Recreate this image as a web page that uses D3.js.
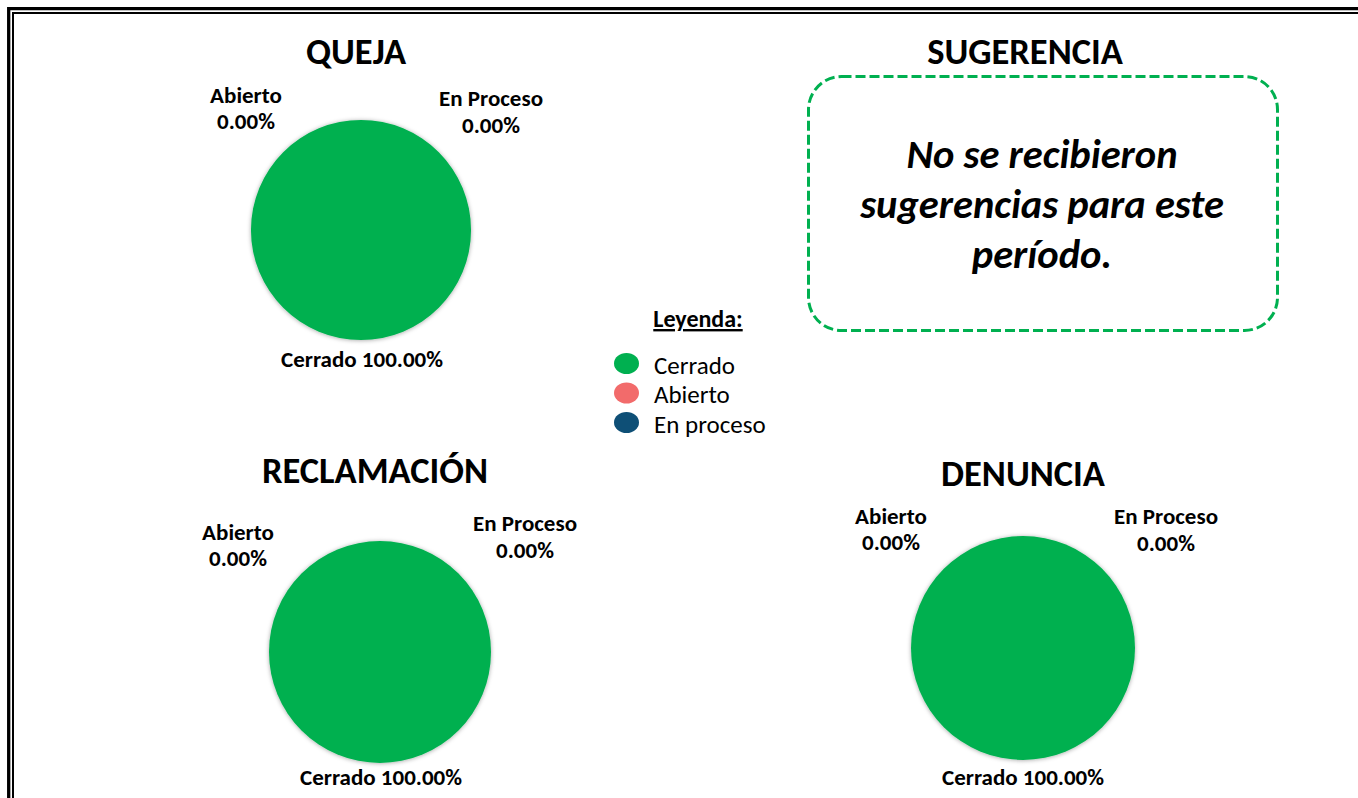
<!DOCTYPE html>
<html>
<head>
<meta charset="utf-8">
<script src="https://cdn.jsdelivr.net/npm/d3@7"></script>
<style>
  html, body { margin: 0; padding: 0; background: #ffffff; }
  svg { display: block; }
  text { font-family: Carlito, Calibri, Lato, "Open Sans", sans-serif; fill: #000; }
</style>
</head>
<body>
<svg id="chart" width="1358" height="798"></svg>
<script>
// ---------- data ----------
const statusCategories = ["Cerrado", "Abierto", "En proceso"];
const statusColors = ["#00B050", "#F26B6B", "#0E4F76"];
const labelNames = ["Cerrado", "Abierto", "En Proceso"];

const chartTitles = ["QUEJA", "RECLAMACIÓN", "DENUNCIA"];
const quejaValues = [100, 0, 0];
const reclamacionValues = [100, 0, 0];
const denunciaValues = [100, 0, 0];

const sugerenciaTitle = "SUGERENCIA";
const sugerenciaMessage = ["No se recibieron", "sugerencias para este", "período."];
const legendTitle = "Leyenda:";

// ---------- layout ----------
const svg = d3.select("#chart");
const W = 1358, H = 798;

// double frame (open to right / bottom as in the reference)
svg.append("path").attr("d", `M8.7,${H + 5} V8.7 H${W + 5}`)
  .attr("fill", "none").attr("stroke", "#000").attr("stroke-width", 3.3);
svg.append("path").attr("d", `M13,${H + 5} V13 H${W + 5}`)
  .attr("fill", "none").attr("stroke", "#000").attr("stroke-width", 2);

const defs = svg.append("defs");
const f = defs.append("filter").attr("id", "pieShadow")
  .attr("x", "-10%").attr("y", "-10%").attr("width", "120%").attr("height", "120%");
f.append("feDropShadow").attr("dx", 0).attr("dy", 0.5).attr("stdDeviation", 2)
  .attr("flood-color", "#000").attr("flood-opacity", 0.35);

const color = d3.scaleOrdinal().domain(statusCategories).range(statusColors);
const pie = d3.pie().sort(null).value(d => d.value);

const TITLE_SIZE = 36.5, LABEL_SIZE = 23;

const charts = [
  { title: chartTitles[0], values: quejaValues, cx: 361, cy: 230, r: 110, titleY: 64, titleX: 356,
    lab: { ab: [-115, -127], ep: [130, -124], ce: [1, 137] } },
  { title: chartTitles[1], values: reclamacionValues, cx: 380, cy: 652, r: 111, titleY: 483, titleX: 375,
    lab: { ab: [-142, -112], ep: [145, -121], ce: [1, 133] } },
  { title: chartTitles[2], values: denunciaValues, cx: 1023, cy: 648, r: 112, titleY: 486,
    lab: { ab: [-132, -124], ep: [143, -124], ce: [0, 137] } }
];

const fmt = v => v.toFixed(2) + "%";

charts.forEach(c => {
  const data = statusCategories.map((k, i) => ({ key: k, value: c.values[i] }));
  const total = d3.sum(data, d => d.value);
  const arcs = pie(data);
  const arc = d3.arc().innerRadius(0).outerRadius(c.r);

  svg.append("text").attr("x", c.titleX || c.cx).attr("y", c.titleY)
    .attr("text-anchor", "middle").attr("font-weight", 700).attr("font-size", TITLE_SIZE)
    .text(c.title);

  const g = svg.append("g").attr("transform", `translate(${c.cx},${c.cy})`)
    .attr("filter", "url(#pieShadow)");
  g.selectAll("path").data(arcs.filter(a => a.endAngle - a.startAngle > 0)).enter()
    .append("path").attr("d", arc).attr("fill", d => color(d.data.key));

  const pct = i => fmt(total ? 100 * data[i].value / total : 0);
  const lg = svg.append("g").attr("transform", `translate(${c.cx},${c.cy})`)
    .attr("font-weight", 700).attr("font-size", LABEL_SIZE).attr("text-anchor", "middle");
  // Abierto
  lg.append("text").attr("x", c.lab.ab[0]).attr("y", c.lab.ab[1]).text(labelNames[1]);
  lg.append("text").attr("x", c.lab.ab[0]).attr("y", c.lab.ab[1] + 26).text(pct(1));
  // En Proceso
  lg.append("text").attr("x", c.lab.ep[0]).attr("y", c.lab.ep[1]).text(labelNames[2]);
  lg.append("text").attr("x", c.lab.ep[0]).attr("y", c.lab.ep[1] + 27).text(pct(2));
  // Cerrado
  lg.append("text").attr("x", c.lab.ce[0]).attr("y", c.lab.ce[1]).text(labelNames[0] + " " + pct(0));
});

// Sugerencia panel
svg.append("text").attr("x", 1025).attr("y", 64).attr("text-anchor", "middle")
  .attr("font-weight", 700).attr("font-size", TITLE_SIZE).text(sugerenciaTitle);
svg.append("rect").attr("x", 808.5).attr("y", 76.5).attr("width", 469).attr("height", 254)
  .attr("rx", 33).attr("ry", 33).attr("fill", "none").attr("stroke", "#00B050")
  .attr("stroke-width", 3).attr("stroke-dasharray", "10,4");
const msg = svg.append("g").attr("font-weight", 700).attr("font-style", "italic")
  .attr("font-size", 40.5).attr("text-anchor", "middle");
sugerenciaMessage.forEach((line, i) => {
  msg.append("text").attr("x", 1042).attr("y", 168 + i * 50).text(line);
});

// Legend
svg.append("text").attr("x", 698).attr("y", 327).attr("text-anchor", "middle")
  .attr("font-weight", 700).attr("font-size", 24).attr("text-decoration", "underline")
  .text(legendTitle);
const legY = d3.scalePoint().domain(statusCategories).range([363.5, 422.5]);
const leg = svg.append("g");
statusCategories.forEach(k => {
  leg.append("ellipse").attr("cx", 626.5).attr("cy", legY(k)).attr("rx", 12.5).attr("ry", 10.5)
    .attr("fill", color(k));
  leg.append("text").attr("x", 654).attr("y", legY(k) + 10).attr("font-size", 25).text(k);
});
</script>
</body>
</html>
